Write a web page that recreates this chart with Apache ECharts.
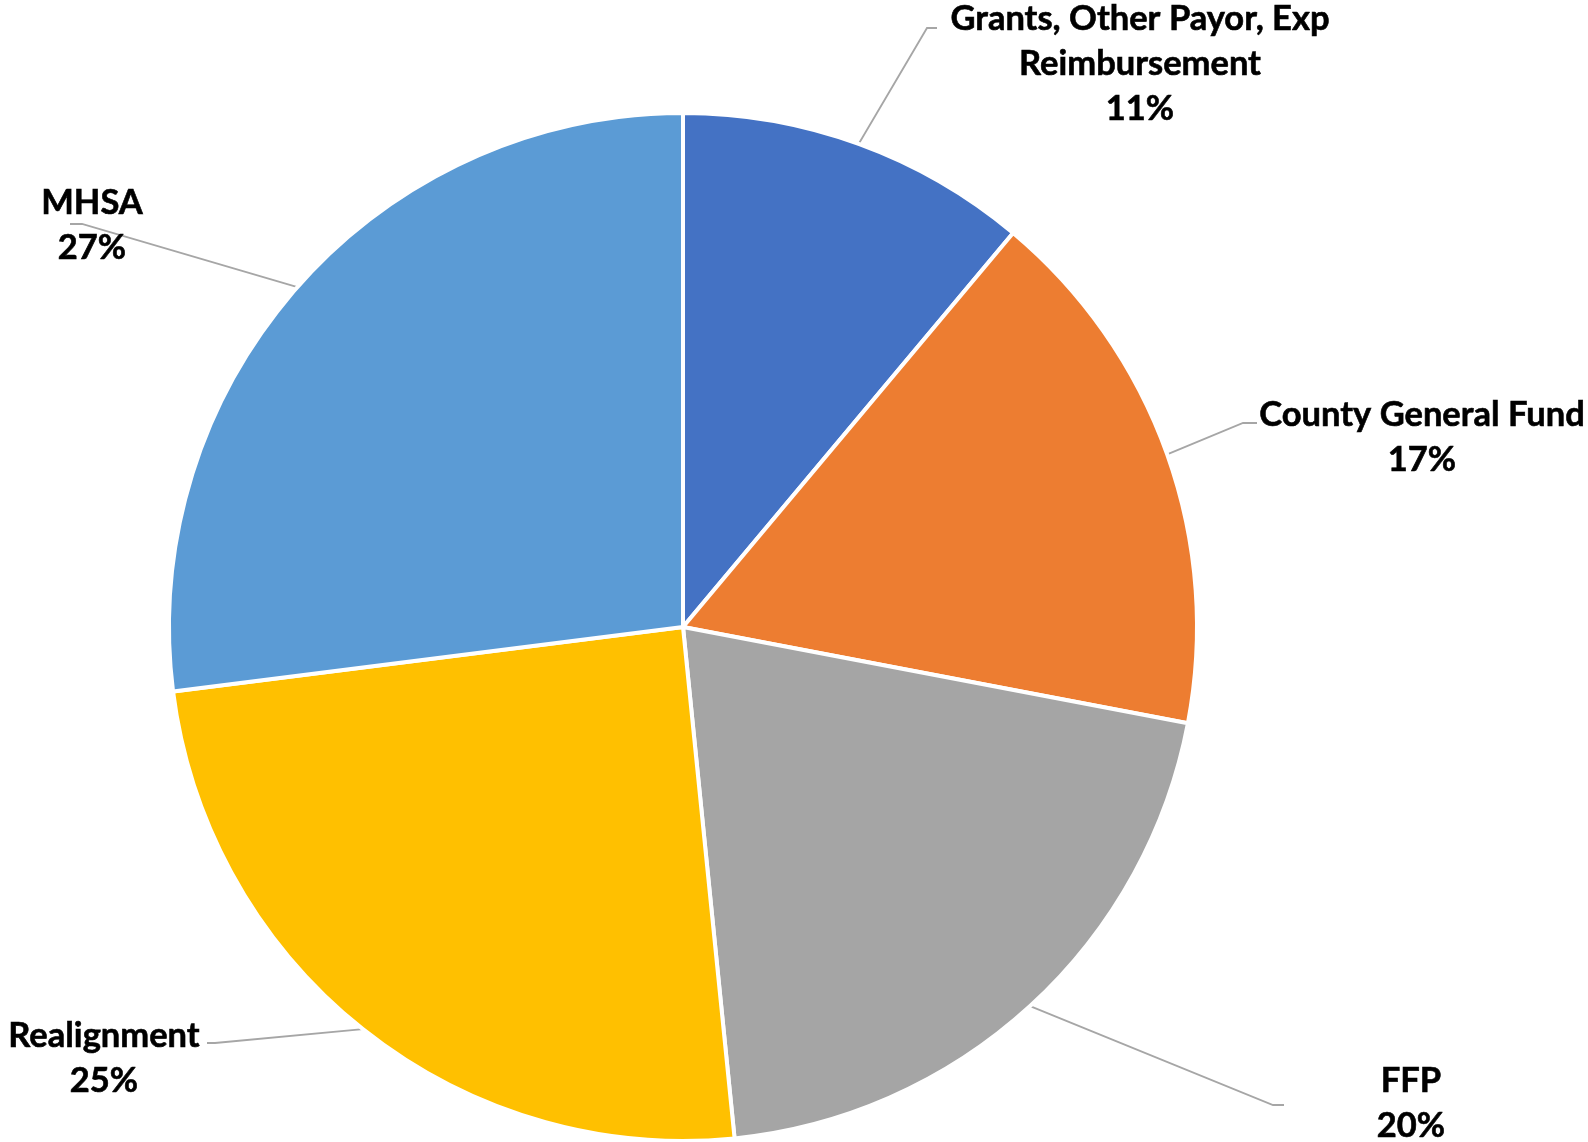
<!DOCTYPE html>
<html>
<head>
<meta charset="utf-8">
<script src="https://cdn.jsdelivr.net/npm/echarts@6/dist/echarts.min.js"></script>
<style>
html,body{margin:0;padding:0;background:#fff;}
#c{width:1588px;height:1142px;}
</style>
</head>
<body>
<div id="c"></div>
<script>
const categories = ['Grants, Other Payor, Exp\nReimbursement', 'County General Fund', 'FFP', 'Realignment', 'MHSA'];
const values = [11.1, 16.9, 20.4, 24.6, 27.0];
const colors = ['#4472C4', '#ED7D31', '#A5A5A5', '#FFC000', '#5B9BD5'];

// label placement (layout only)
const labelPlace = [
  { x: 1140, y: 64,   elbow: [927, 28],   end: [937, 28] },
  { x: 1422, y: 437,  elbow: [1243, 423], end: [1257, 423] },
  { x: 1411, y: 1103, elbow: [1273, 1105], end: [1284, 1105] },
  { x: 104,  y: 1058, elbow: [215, 1043], end: [207, 1043] },
  { x: 92,   y: 225,  elbow: [82, 224],   end: [70, 224] }
];

const chart = echarts.init(document.getElementById('c'), null, { renderer: 'canvas' });
chart.setOption({
  backgroundColor: '#ffffff',
  animation: false,
  series: [{
    type: 'pie',
    center: [683, 627],
    radius: 514,
    startAngle: 90,
    clockwise: true,
    percentPrecision: 0,
    avoidLabelOverlap: false,
    data: categories.map((n, i) => ({ name: n, value: values[i], itemStyle: { color: colors[i] } })),
    itemStyle: { borderColor: '#ffffff', borderWidth: 4 },
    label: {
      show: true,
      position: 'outside',
      formatter: '{b}\n{d}%',
      fontFamily: 'Lato',
      fontWeight: 'bold',
      fontSize: 34.5,
      lineHeight: 45,
      color: '#000000',
      textBorderColor: '#000000',
      textBorderWidth: 0.6,
      align: 'center'
    },
    labelLine: {
      show: true,
      length: 40,
      length2: 10,
      lineStyle: { color: '#A6A6A6', width: 1.8 }
    },
    labelLayout: function (params) {
      const p = labelPlace[params.dataIndex];
      const start = params.labelLinePoints ? params.labelLinePoints[0] : p.elbow;
      return {
        x: p.x,
        y: p.y,
        align: 'center',
        verticalAlign: 'middle',
        labelLinePoints: [start, p.elbow, p.end]
      };
    },
    emphasis: { disabled: true }
  }]
});
</script>
</body>
</html>
